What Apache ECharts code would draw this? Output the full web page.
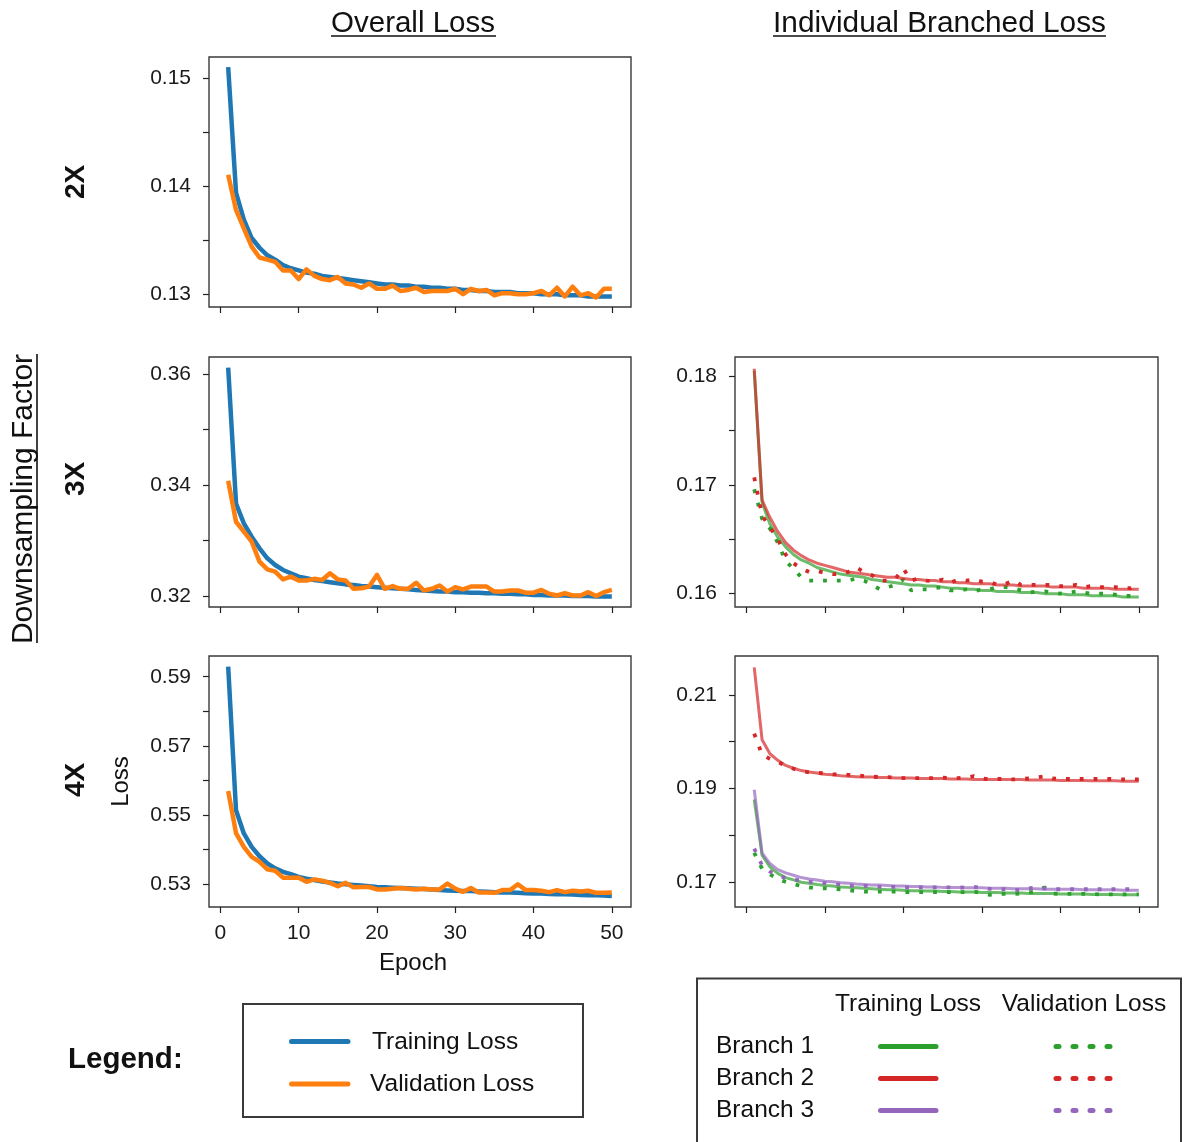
<!DOCTYPE html>
<html>
<head>
<meta charset="utf-8">
<script src="https://cdn.jsdelivr.net/npm/echarts@6/dist/echarts.min.js"></script>
<style>
  html, body { margin: 0; background: #fff; }
  #chart { width: 1188px; height: 1142px; }
</style>
</head>
<body>
<div id="chart"></div>
<script>
// epochs on the x axis
const epochs = [1, 2, 3, 4, 5, 6, 7, 8, 9, 10, 11, 12, 13, 14, 15, 16, 17, 18, 19, 20,
  21, 22, 23, 24, 25, 26, 27, 28, 29, 30, 31, 32, 33, 34, 35, 36, 37, 38, 39, 40,
  41, 42, 43, 44, 45, 46, 47, 48, 49, 50];
const xTicks = [0, 10, 20, 30, 40, 50];

// overall loss, 2X
const train2x = [0.1510, 0.1394, 0.1369, 0.1352, 0.1343, 0.1336, 0.1332, 0.1327, 0.1324, 0.1322,
  0.1320, 0.1319, 0.1317, 0.1316, 0.1315, 0.1314, 0.1313, 0.1312, 0.1311, 0.1310,
  0.1309, 0.1309, 0.1308, 0.1308, 0.1307, 0.1307, 0.1306, 0.1306, 0.1305, 0.1305,
  0.1304, 0.1304, 0.1303, 0.1303, 0.1302, 0.1302, 0.1302, 0.1301, 0.1301, 0.1301,
  0.1300, 0.1300, 0.1300, 0.1299, 0.1299, 0.1299, 0.1298, 0.1298, 0.1298, 0.1298];
const val2x = [0.14105, 0.1378, 0.1361, 0.1344, 0.1334, 0.1332, 0.1330, 0.1322, 0.1322, 0.1314,
  0.1323, 0.1317, 0.1314, 0.1313, 0.1316, 0.1310, 0.1309, 0.1306, 0.1310, 0.1305,
  0.1305, 0.1308, 0.1303, 0.1304, 0.1306, 0.1302, 0.1303, 0.1303, 0.1303, 0.1305,
  0.1300, 0.1305, 0.1303, 0.1304, 0.1299, 0.1301, 0.1301, 0.1300, 0.1300, 0.1301,
  0.1303, 0.1299, 0.1306, 0.1298, 0.1307, 0.1299, 0.1301, 0.1297, 0.1305, 0.1305];

// overall loss, 3X
const train3x = [0.3612, 0.3367, 0.3331, 0.3307, 0.3286, 0.3268, 0.3256, 0.3247, 0.3241, 0.3235,
  0.3232, 0.3229, 0.3227, 0.3225, 0.3223, 0.3221, 0.3220, 0.3218, 0.3217, 0.3216,
  0.3215, 0.3214, 0.3213, 0.3212, 0.3211, 0.3210, 0.3209, 0.3208, 0.3208, 0.3207,
  0.3207, 0.3206, 0.3206, 0.3205, 0.3205, 0.3204, 0.3204, 0.3203, 0.3203, 0.3202,
  0.3202, 0.3201, 0.3201, 0.3201, 0.3200, 0.3200, 0.3200, 0.3199, 0.3199, 0.3199];
const val3x = [0.3408, 0.3334, 0.3316, 0.3298, 0.3262, 0.3248, 0.3244, 0.3230, 0.3235, 0.3228,
  0.3228, 0.3231, 0.3229, 0.3241, 0.3230, 0.3228, 0.3213, 0.3214, 0.3217, 0.3238,
  0.3213, 0.3218, 0.3213, 0.3213, 0.3224, 0.3210, 0.3213, 0.3219, 0.3208, 0.3216,
  0.3212, 0.3217, 0.3217, 0.3217, 0.3208, 0.3208, 0.3210, 0.3210, 0.3206, 0.3206,
  0.3211, 0.3204, 0.3201, 0.3205, 0.3201, 0.3201, 0.3207, 0.3200, 0.3207, 0.3211];

// overall loss, 4X
const train4x = [0.5929, 0.5513, 0.5446, 0.5407, 0.5380, 0.5359, 0.5345, 0.5335, 0.5328, 0.5320,
  0.5315, 0.5311, 0.5307, 0.5304, 0.5301, 0.5299, 0.5297, 0.5295, 0.5293, 0.5291,
  0.5290, 0.5289, 0.5288, 0.5287, 0.5286, 0.5285, 0.5284, 0.5282, 0.5281, 0.5280,
  0.5279, 0.5279, 0.5278, 0.5277, 0.5276, 0.5275, 0.5275, 0.5274, 0.5273, 0.5272,
  0.5272, 0.5271, 0.5270, 0.5270, 0.5269, 0.5268, 0.5267, 0.5267, 0.5266, 0.5265];
const val4x = [0.5569, 0.5447, 0.5407, 0.5378, 0.5364, 0.5342, 0.5338, 0.5318, 0.5318, 0.5318,
  0.5306, 0.5313, 0.5309, 0.5303, 0.5293, 0.5303, 0.5290, 0.5291, 0.5291, 0.5284,
  0.5284, 0.5286, 0.5288, 0.5286, 0.5284, 0.5286, 0.5284, 0.5284, 0.5301, 0.5286,
  0.5277, 0.5288, 0.5275, 0.5275, 0.5274, 0.5282, 0.5282, 0.5299, 0.5282, 0.5282,
  0.5280, 0.5276, 0.5282, 0.5276, 0.5280, 0.5278, 0.5280, 0.5274, 0.5274, 0.5275];

// branched loss, 3X
const b1Train3x = [0.1805, 0.1684, 0.1664, 0.1652, 0.1643, 0.1636, 0.1631, 0.1628, 0.1624, 0.1622,
  0.1620, 0.1618, 0.1617, 0.1616, 0.1615, 0.1613, 0.1612, 0.1611, 0.1610, 0.1609,
  0.1608, 0.1608, 0.1607, 0.1607, 0.1606, 0.1605, 0.1605, 0.1604, 0.1604, 0.1603,
  0.1603, 0.1602, 0.1602, 0.1602, 0.1601, 0.1601, 0.1601, 0.1600, 0.1600, 0.1600,
  0.1599, 0.1599, 0.1599, 0.1598, 0.1598, 0.1598, 0.1598, 0.1597, 0.1597, 0.1597];
const b1Val3x = [0.1696, 0.1669, 0.1660, 0.1647, 0.1630, 0.1623, 0.1615, 0.1612, 0.1612, 0.1612,
  0.1612, 0.1612, 0.1612, 0.1614, 0.1612, 0.1608, 0.1604, 0.1606, 0.1608, 0.1613,
  0.1603, 0.1604, 0.1604, 0.1605, 0.1606, 0.1603, 0.1603, 0.1604, 0.1602, 0.1604,
  0.1604, 0.1606, 0.1606, 0.1605, 0.1603, 0.1601, 0.1602, 0.1602, 0.1601, 0.1600,
  0.1601, 0.1602, 0.1601, 0.1600, 0.1600, 0.1600, 0.1599, 0.1598, 0.1598, 0.1601];
const b2Train3x = [0.1807, 0.1686, 0.1670, 0.1657, 0.1647, 0.1640, 0.1635, 0.1631, 0.1628, 0.1626,
  0.1624, 0.1622, 0.1620, 0.1619, 0.1618, 0.1617, 0.1616, 0.1615, 0.1615, 0.1614,
  0.1613, 0.1613, 0.1612, 0.1612, 0.1611, 0.1611, 0.1610, 0.1610, 0.1609, 0.1609,
  0.1609, 0.1608, 0.1608, 0.1608, 0.1607, 0.1607, 0.1607, 0.1607, 0.1606, 0.1606,
  0.1606, 0.1606, 0.1605, 0.1605, 0.1605, 0.1605, 0.1604, 0.1604, 0.1604, 0.1604];
const b2Val3x = [0.1707, 0.1672, 0.1661, 0.1650, 0.1636, 0.1628, 0.1623, 0.1620, 0.1621, 0.1619,
  0.1618, 0.1618, 0.1620, 0.1624, 0.1620, 0.1617, 0.1612, 0.1612, 0.1614, 0.1623,
  0.1612, 0.1614, 0.1612, 0.1611, 0.1613, 0.1610, 0.1613, 0.1612, 0.1613, 0.1611,
  0.1611, 0.1608, 0.1609, 0.1612, 0.1608, 0.1608, 0.1608, 0.1608, 0.1608, 0.1607,
  0.1607, 0.1608, 0.1606, 0.1607, 0.1606, 0.1606, 0.1606, 0.1605, 0.1605, 0.1610];

// branched loss, 4X
const b1Train4x = [0.1876, 0.1757, 0.1732, 0.1718, 0.1709, 0.1704, 0.1699, 0.1697, 0.1694, 0.1692,
  0.1691, 0.1689, 0.1688, 0.1687, 0.1686, 0.1685, 0.1684, 0.1683, 0.1683, 0.1682,
  0.1681, 0.1681, 0.1680, 0.1680, 0.1679, 0.1679, 0.1678, 0.1678, 0.1678, 0.1677,
  0.1677, 0.1677, 0.1676, 0.1676, 0.1676, 0.1675, 0.1675, 0.1675, 0.1675, 0.1674,
  0.1674, 0.1674, 0.1674, 0.1673, 0.1673, 0.1673, 0.1673, 0.1672, 0.1672, 0.1672];
const b1Val4x = [0.1762, 0.1728, 0.1716, 0.1706, 0.1700, 0.1695, 0.1691, 0.1688, 0.1686, 0.1686,
  0.1685, 0.1684, 0.1682, 0.1680, 0.1679, 0.1679, 0.1679, 0.1679, 0.1679, 0.1678,
  0.1678, 0.1678, 0.1678, 0.1678, 0.1678, 0.1678, 0.1678, 0.1678, 0.1679, 0.1676,
  0.1672, 0.1674, 0.1674, 0.1674, 0.1675, 0.1677, 0.1680, 0.1688, 0.1675, 0.1674,
  0.1674, 0.1674, 0.1674, 0.1674, 0.1673, 0.1673, 0.1673, 0.1673, 0.1673, 0.1673];
const b2Train4x = [0.2159, 0.2004, 0.1974, 0.1960, 0.1949, 0.1943, 0.1938, 0.1935, 0.1933, 0.1930,
  0.1929, 0.1927, 0.1926, 0.1925, 0.1924, 0.1924, 0.1923, 0.1923, 0.1922, 0.1922,
  0.1922, 0.1921, 0.1921, 0.1921, 0.1921, 0.1920, 0.1920, 0.1920, 0.1919, 0.1919,
  0.1919, 0.1919, 0.1919, 0.1919, 0.1919, 0.1918, 0.1918, 0.1918, 0.1918, 0.1917,
  0.1917, 0.1917, 0.1917, 0.1916, 0.1916, 0.1916, 0.1916, 0.1915, 0.1915, 0.1915];
const b2Val4x = [0.2017, 0.1972, 0.1963, 0.1956, 0.1949, 0.1942, 0.1937, 0.1934, 0.1933, 0.1932,
  0.1930, 0.1930, 0.1929, 0.1928, 0.1926, 0.1925, 0.1924, 0.1924, 0.1923, 0.1922,
  0.1922, 0.1922, 0.1922, 0.1922, 0.1923, 0.1922, 0.1922, 0.1923, 0.1926, 0.1921,
  0.1919, 0.1920, 0.1920, 0.1919, 0.1920, 0.1921, 0.1923, 0.1926, 0.1921, 0.1920,
  0.1920, 0.1920, 0.1920, 0.1920, 0.1920, 0.1920, 0.1920, 0.1919, 0.1919, 0.1919];
const b3Train4x = [0.1897, 0.1761, 0.1739, 0.1726, 0.1719, 0.1714, 0.1709, 0.1706, 0.1704, 0.1701,
  0.1700, 0.1698, 0.1697, 0.1695, 0.1694, 0.1693, 0.1693, 0.1692, 0.1691, 0.1691,
  0.1690, 0.1690, 0.1689, 0.1689, 0.1688, 0.1688, 0.1688, 0.1687, 0.1687, 0.1687,
  0.1686, 0.1686, 0.1686, 0.1685, 0.1685, 0.1685, 0.1685, 0.1684, 0.1684, 0.1684,
  0.1684, 0.1684, 0.1683, 0.1683, 0.1683, 0.1683, 0.1683, 0.1682, 0.1682, 0.1682];
const b3Val4x = [0.1771, 0.1735, 0.1722, 0.1714, 0.1708, 0.1705, 0.1702, 0.1700, 0.1698, 0.1697,
  0.1695, 0.1694, 0.1692, 0.1691, 0.1691, 0.1690, 0.1689, 0.1689, 0.1689, 0.1688,
  0.1688, 0.1688, 0.1688, 0.1688, 0.1688, 0.1688, 0.1688, 0.1687, 0.1689, 0.1687,
  0.1685, 0.1684, 0.1684, 0.1683, 0.1682, 0.1686, 0.1688, 0.1686, 0.1684, 0.1684,
  0.1684, 0.1684, 0.1684, 0.1684, 0.1684, 0.1684, 0.1684, 0.1684, 0.1684, 0.1682];

const FONT = '"Liberation Sans", Arial, sans-serif';
const BLUE = '#1f77b4', ORANGE = '#ff7f0e';
const GREEN = '#2ca02c', RED = '#d62728', PURPLE = '#9467bd';
const BOX = '#3a3a3a';

// one entry per subplot: pixel box, y range and tick values
const panels = [
  { left: 209, top: 57, width: 422, height: 250, yMin: 0.12882, yMax: 0.15194,
    yTicks: [0.13, 0.135, 0.14, 0.145, 0.15], yLabels: [0.13, 0.14, 0.15], xLabels: false },
  { left: 209, top: 357, width: 422, height: 250, yMin: 0.31802, yMax: 0.36312,
    yTicks: [0.32, 0.33, 0.34, 0.35, 0.36], yLabels: [0.32, 0.34, 0.36], xLabels: false },
  { left: 209, top: 656, width: 422, height: 251, yMin: 0.5233, yMax: 0.596,
    yTicks: [0.53, 0.54, 0.55, 0.56, 0.57, 0.58, 0.59], yLabels: [0.53, 0.55, 0.57, 0.59], xLabels: true },
  { left: 735, top: 357, width: 423, height: 250, yMin: 0.15877, yMax: 0.18178,
    yTicks: [0.16, 0.165, 0.17, 0.175, 0.18], yLabels: [0.16, 0.17, 0.18], xLabels: false },
  { left: 735, top: 656, width: 423, height: 251, yMin: 0.1646, yMax: 0.21832,
    yTicks: [0.17, 0.18, 0.19, 0.20, 0.21], yLabels: [0.17, 0.19, 0.21], xLabels: false }
];

const pairs = vals => epochs.map((e, i) => [e, vals[i]]);

function overall(idx, name, vals, color) {
  return {
    name, type: 'line', xAxisIndex: idx, yAxisIndex: idx, data: pairs(vals),
    symbol: 'none', silent: true,
    lineStyle: { color, width: 4.5, cap: 'butt', join: 'round' }
  };
}
function branchTrain(idx, name, vals, color) {
  return {
    name, type: 'line', xAxisIndex: idx, yAxisIndex: idx, data: pairs(vals),
    symbol: 'none', silent: true,
    lineStyle: { color, width: 3, opacity: 0.7 }
  };
}
function branchVal(idx, name, vals, color) {
  return {
    name, type: 'line', xAxisIndex: idx, yAxisIndex: idx, data: pairs(vals),
    symbol: 'none', silent: true,
    lineStyle: { color, width: 3.8, type: [3.8, 10], cap: 'butt' }
  };
}

const series = [
  overall(0, 'Training Loss 2X', train2x, BLUE),
  overall(0, 'Validation Loss 2X', val2x, ORANGE),
  overall(1, 'Training Loss 3X', train3x, BLUE),
  overall(1, 'Validation Loss 3X', val3x, ORANGE),
  overall(2, 'Training Loss 4X', train4x, BLUE),
  overall(2, 'Validation Loss 4X', val4x, ORANGE),
  branchTrain(3, 'Branch 1 Training 3X', b1Train3x, GREEN),
  branchVal(3, 'Branch 1 Validation 3X', b1Val3x, GREEN),
  branchTrain(3, 'Branch 2 Training 3X', b2Train3x, RED),
  branchVal(3, 'Branch 2 Validation 3X', b2Val3x, RED),
  branchTrain(4, 'Branch 1 Training 4X', b1Train4x, GREEN),
  branchVal(4, 'Branch 1 Validation 4X', b1Val4x, GREEN),
  branchTrain(4, 'Branch 2 Training 4X', b2Train4x, RED),
  branchVal(4, 'Branch 2 Validation 4X', b2Val4x, RED),
  branchTrain(4, 'Branch 3 Training 4X', b3Train4x, PURPLE),
  branchVal(4, 'Branch 3 Validation 4X', b3Val4x, PURPLE)
];

const tickStyle = { show: true, length: 6, lineStyle: { color: '#222', width: 1.2 } };

const grid = panels.map(p => ({
  left: p.left, top: p.top, width: p.width, height: p.height,
  show: true, borderColor: BOX, borderWidth: 1.4, backgroundColor: 'transparent'
}));

const xAxis = panels.map((p, i) => ({
  type: 'value', gridIndex: i, min: -1.45, max: 52.45,
  axisLine: { show: false, onZero: false },
  splitLine: { show: false },
  axisTick: Object.assign({ customValues: xTicks }, tickStyle),
  axisLabel: {
    show: p.xLabels, customValues: xTicks, margin: 16,
    fontFamily: FONT, fontSize: 21, color: '#1a1a1a'
  },
  name: i === 2 ? 'Epoch' : '', nameLocation: 'middle', nameGap: 44,
  nameTextStyle: { fontFamily: FONT, fontSize: 24, color: '#111', padding: [0, 14, 0, 0] }
}));

const yAxis = panels.map((p, i) => ({
  type: 'value', gridIndex: i, min: p.yMin, max: p.yMax,
  axisLine: { show: false, onZero: false },
  splitLine: { show: false },
  axisTick: Object.assign({ customValues: p.yTicks }, tickStyle),
  axisLabel: {
    customValues: p.yLabels, margin: 18,
    formatter: v => v.toFixed(2),
    fontFamily: FONT, fontSize: 21, color: '#1a1a1a'
  },
  name: i === 2 ? 'Loss' : '', nameLocation: 'middle', nameGap: 76,
  nameTextStyle: { fontFamily: FONT, fontSize: 24, color: '#111' }
}));

function label(x, y, text, size, opts = {}) {
  return {
    type: 'text', x, y, rotation: opts.rotation || 0, silent: true,
    style: {
      text, fill: '#111',
      font: (opts.bold ? 'bold ' : '') + size + 'px ' + FONT,
      textAlign: opts.align || 'center', textVerticalAlign: 'middle',
      align: opts.align || 'center', verticalAlign: 'middle'
    }
  };
}
function seg(x1, y1, x2, y2, color, width, extra = {}) {
  return {
    type: 'line', silent: true,
    shape: { x1, y1, x2, y2 },
    style: Object.assign({ stroke: color, lineWidth: width }, extra)
  };
}

const graphic = [
  // column titles
  label(413, 24, 'Overall Loss', 29.5),
  seg(331, 36, 496, 36, '#111', 1.6),
  label(939.5, 24, 'Individual Branched Loss', 29.8),
  seg(773, 36, 1106, 36, '#111', 1.6),
  // row titles
  label(24, 499, 'Downsampling Factor', 30, { rotation: Math.PI / 2 }),
  seg(37, 354, 37, 643, '#111', 1.6),
  label(76, 182, '2X', 28, { bold: true, rotation: Math.PI / 2 }),
  label(76, 479, '3X', 28, { bold: true, rotation: Math.PI / 2 }),
  label(76, 780, '4X', 28, { bold: true, rotation: Math.PI / 2 }),

  // legend for the overall loss
  label(68, 1060, 'Legend:', 29.5, { bold: true, align: 'left' }),
  { type: 'rect', silent: true, shape: { x: 243, y: 1004, width: 340, height: 113 },
    style: { fill: '#fff', stroke: BOX, lineWidth: 2 } },
  seg(291.5, 1041.5, 348, 1041.5, BLUE, 5, { lineCap: 'round' }),
  label(372, 1042, 'Training Loss', 24.5, { align: 'left' }),
  seg(291.5, 1084, 348, 1084, ORANGE, 5, { lineCap: 'round' }),
  label(370, 1084, 'Validation Loss', 24.5, { align: 'left' }),

  // legend for the branched loss
  { type: 'rect', silent: true, shape: { x: 697, y: 978.5, width: 484, height: 200 },
    style: { fill: '#fff', stroke: BOX, lineWidth: 2 } },
  label(908, 1004, 'Training Loss', 24.5),
  label(1084, 1004, 'Validation Loss', 24.5),
  label(716, 1046, 'Branch 1', 24.5, { align: 'left' }),
  label(716, 1078, 'Branch 2', 24.5, { align: 'left' }),
  label(716, 1110, 'Branch 3', 24.5, { align: 'left' }),
  seg(880.5, 1046.5, 936, 1046.5, GREEN, 5, { lineCap: 'round' }),
  seg(880.5, 1078.5, 936, 1078.5, RED, 5, { lineCap: 'round' }),
  seg(880.5, 1110.5, 936, 1110.5, PURPLE, 5, { lineCap: 'round' }),
  seg(1056, 1046.5, 1111, 1046.5, GREEN, 5, { lineCap: 'round', lineDash: [3, 14] }),
  seg(1056, 1078.5, 1111, 1078.5, RED, 5, { lineCap: 'round', lineDash: [3, 14] }),
  seg(1056, 1110.5, 1111, 1110.5, PURPLE, 5, { lineCap: 'round', lineDash: [3, 14] })
];

const chart = echarts.init(document.getElementById('chart'), null, { renderer: 'canvas' });
chart.setOption({
  animation: false,
  backgroundColor: '#fff',
  textStyle: { fontFamily: FONT },
  grid, xAxis, yAxis, series, graphic
});
window.addEventListener('resize', () => chart.resize());
</script>
</body>
</html>
